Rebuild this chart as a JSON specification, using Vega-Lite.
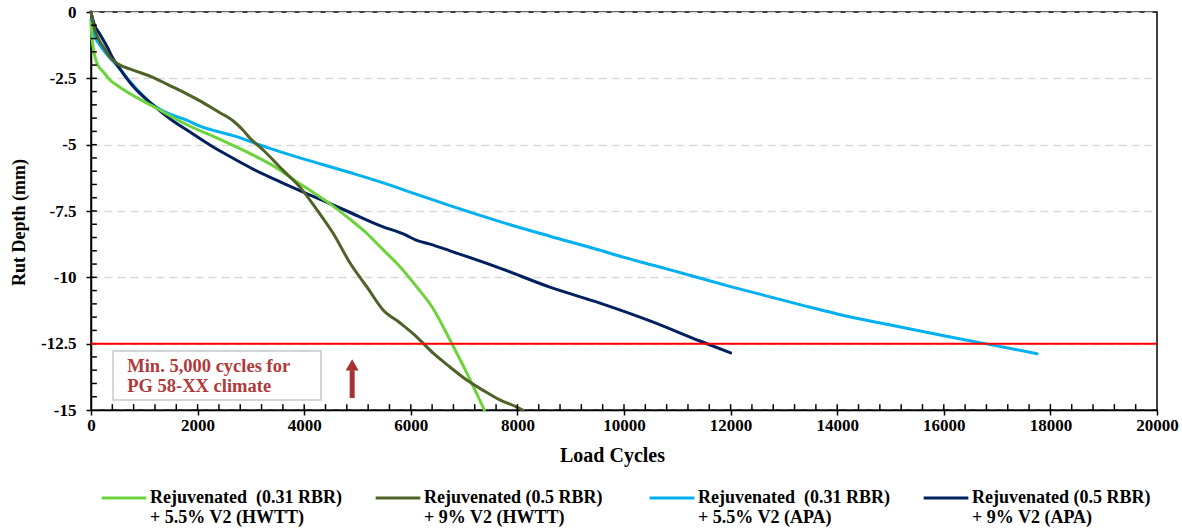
{
  "$schema": "https://vega.github.io/schema/vega-lite/v6.json",
  "width": 1066,
  "height": 398,
  "autosize": {"type": "none"},
  "padding": {"left": 91, "top": 12, "right": 25, "bottom": 119},
  "background": "white",
  "config": {
    "font": "Liberation Serif",
    "view": {"stroke": "black", "strokeWidth": 1.5},
    "axis": {
      "labelFont": "Liberation Serif",
      "labelFontWeight": "bold",
      "labelFontSize": 17,
      "labelColor": "black",
      "titleFont": "Liberation Serif",
      "titleFontWeight": "bold",
      "titleColor": "black",
      "domainColor": "black",
      "domainWidth": 1.5,
      "tickColor": "black",
      "tickWidth": 1.5,
      "tickCount": 100
    }
  },
  "resolve": {"axis": {"x": "independent", "y": "independent"}},
  "datasets": {
    "yticks": [{"v": -0.5},{"v": -1},{"v": -1.5},{"v": -2},{"v": -2.5},{"v": -3},{"v": -3.5},{"v": -4},{"v": -4.5},{"v": -5},{"v": -5.5},{"v": -6},{"v": -6.5},{"v": -7},{"v": -7.5},{"v": -8},{"v": -8.5},{"v": -9},{"v": -9.5},{"v": -10},{"v": -10.5},{"v": -11},{"v": -11.5},{"v": -12},{"v": -12.5},{"v": -13},{"v": -13.5},{"v": -14},{"v": -14.5}],
    "xticks": [{"v": 400},{"v": 800},{"v": 1200},{"v": 1600},{"v": 2000},{"v": 2400},{"v": 2800},{"v": 3200},{"v": 3600},{"v": 4000},{"v": 4400},{"v": 4800},{"v": 5200},{"v": 5600},{"v": 6000},{"v": 6400},{"v": 6800},{"v": 7200},{"v": 7600},{"v": 8000},{"v": 8400},{"v": 8800},{"v": 9200},{"v": 9600},{"v": 10000},{"v": 10400},{"v": 10800},{"v": 11200},{"v": 11600},{"v": 12000},{"v": 12400},{"v": 12800},{"v": 13200},{"v": 13600},{"v": 14000},{"v": 14400},{"v": 14800},{"v": 15200},{"v": 15600},{"v": 16000},{"v": 16400},{"v": 16800},{"v": 17200},{"v": 17600},{"v": 18000},{"v": 18400},{"v": 18800},{"v": 19200},{"v": 19600}],
    "curves": [
      {"series": "LB", "cycles": 0, "rut": -0.3},
      {"series": "LB", "cycles": 50, "rut": -0.8},
      {"series": "LB", "cycles": 150, "rut": -1.2},
      {"series": "LB", "cycles": 300, "rut": -1.6},
      {"series": "LB", "cycles": 500, "rut": -2.05},
      {"series": "LB", "cycles": 700, "rut": -2.55},
      {"series": "LB", "cycles": 950, "rut": -3.1},
      {"series": "LB", "cycles": 1200, "rut": -3.55},
      {"series": "LB", "cycles": 1425, "rut": -3.8},
      {"series": "LB", "cycles": 1760, "rut": -4.05},
      {"series": "LB", "cycles": 2045, "rut": -4.3},
      {"series": "LB", "cycles": 2700, "rut": -4.68},
      {"series": "LB", "cycles": 3300, "rut": -5.1},
      {"series": "LB", "cycles": 3920, "rut": -5.5},
      {"series": "LB", "cycles": 4860, "rut": -6.05},
      {"series": "LB", "cycles": 5500, "rut": -6.45},
      {"series": "LB", "cycles": 6000, "rut": -6.8},
      {"series": "LB", "cycles": 6735, "rut": -7.3},
      {"series": "LB", "cycles": 7670, "rut": -7.9},
      {"series": "LB", "cycles": 8610, "rut": -8.45},
      {"series": "LB", "cycles": 9550, "rut": -8.98},
      {"series": "LB", "cycles": 10000, "rut": -9.25},
      {"series": "LB", "cycles": 10800, "rut": -9.68},
      {"series": "LB", "cycles": 12000, "rut": -10.35},
      {"series": "LB", "cycles": 13300, "rut": -11.03},
      {"series": "LB", "cycles": 14000, "rut": -11.38},
      {"series": "LB", "cycles": 15000, "rut": -11.8},
      {"series": "LB", "cycles": 16000, "rut": -12.2},
      {"series": "LB", "cycles": 16700, "rut": -12.47},
      {"series": "LB", "cycles": 17300, "rut": -12.7},
      {"series": "LB", "cycles": 17750, "rut": -12.88},
      {"series": "DB", "cycles": 0, "rut": 0},
      {"series": "DB", "cycles": 50, "rut": -0.4},
      {"series": "DB", "cycles": 170, "rut": -0.85},
      {"series": "DB", "cycles": 300, "rut": -1.3},
      {"series": "DB", "cycles": 413, "rut": -1.75},
      {"series": "DB", "cycles": 600, "rut": -2.3},
      {"series": "DB", "cycles": 790, "rut": -2.8},
      {"series": "DB", "cycles": 1160, "rut": -3.5},
      {"series": "DB", "cycles": 1500, "rut": -4.05},
      {"series": "DB", "cycles": 1800, "rut": -4.45},
      {"series": "DB", "cycles": 2300, "rut": -5.1},
      {"series": "DB", "cycles": 2700, "rut": -5.55},
      {"series": "DB", "cycles": 3000, "rut": -5.88},
      {"series": "DB", "cycles": 3550, "rut": -6.4},
      {"series": "DB", "cycles": 4170, "rut": -6.95},
      {"series": "DB", "cycles": 4800, "rut": -7.5},
      {"series": "DB", "cycles": 5420, "rut": -8.05},
      {"series": "DB", "cycles": 5900, "rut": -8.4},
      {"series": "DB", "cycles": 6100, "rut": -8.6},
      {"series": "DB", "cycles": 6360, "rut": -8.75},
      {"series": "DB", "cycles": 6735, "rut": -9.0},
      {"series": "DB", "cycles": 7670, "rut": -9.65},
      {"series": "DB", "cycles": 8610, "rut": -10.37},
      {"series": "DB", "cycles": 9550, "rut": -10.97},
      {"series": "DB", "cycles": 10500, "rut": -11.65},
      {"series": "DB", "cycles": 11425, "rut": -12.4},
      {"series": "DB", "cycles": 12000, "rut": -12.85},
      {"series": "LG", "cycles": 0, "rut": -0.4},
      {"series": "LG", "cycles": 20, "rut": -1.0},
      {"series": "LG", "cycles": 50, "rut": -1.45},
      {"series": "LG", "cycles": 110, "rut": -1.92},
      {"series": "LG", "cycles": 250, "rut": -2.3},
      {"series": "LG", "cycles": 356, "rut": -2.56},
      {"series": "LG", "cycles": 500, "rut": -2.78},
      {"series": "LG", "cycles": 790, "rut": -3.15},
      {"series": "LG", "cycles": 1160, "rut": -3.55},
      {"series": "LG", "cycles": 1800, "rut": -4.25},
      {"series": "LG", "cycles": 2420, "rut": -4.8},
      {"series": "LG", "cycles": 2950, "rut": -5.3},
      {"series": "LG", "cycles": 3550, "rut": -5.96},
      {"series": "LG", "cycles": 3790, "rut": -6.3},
      {"series": "LG", "cycles": 4170, "rut": -6.8},
      {"series": "LG", "cycles": 4500, "rut": -7.25},
      {"series": "LG", "cycles": 4820, "rut": -7.75},
      {"series": "LG", "cycles": 5150, "rut": -8.3},
      {"series": "LG", "cycles": 5450, "rut": -8.9},
      {"series": "LG", "cycles": 5750, "rut": -9.5},
      {"series": "LG", "cycles": 6115, "rut": -10.37},
      {"series": "LG", "cycles": 6400, "rut": -11.12},
      {"series": "LG", "cycles": 6735, "rut": -12.36},
      {"series": "LG", "cycles": 7050, "rut": -13.6},
      {"series": "LG", "cycles": 7380, "rut": -15},
      {"series": "DG", "cycles": 0, "rut": 0},
      {"series": "DG", "cycles": 60, "rut": -0.6},
      {"series": "DG", "cycles": 150, "rut": -1.05},
      {"series": "DG", "cycles": 260, "rut": -1.4},
      {"series": "DG", "cycles": 356, "rut": -1.7},
      {"series": "DG", "cycles": 500, "rut": -1.95},
      {"series": "DG", "cycles": 790, "rut": -2.19},
      {"series": "DG", "cycles": 1150, "rut": -2.45},
      {"series": "DG", "cycles": 1425, "rut": -2.72},
      {"series": "DG", "cycles": 1760, "rut": -3.05},
      {"series": "DG", "cycles": 2045, "rut": -3.35},
      {"series": "DG", "cycles": 2380, "rut": -3.75},
      {"series": "DG", "cycles": 2664, "rut": -4.1},
      {"series": "DG", "cycles": 2850, "rut": -4.45},
      {"series": "DG", "cycles": 2980, "rut": -4.75},
      {"series": "DG", "cycles": 3230, "rut": -5.2},
      {"series": "DG", "cycles": 3600, "rut": -5.96},
      {"series": "DG", "cycles": 3920, "rut": -6.6},
      {"series": "DG", "cycles": 4240, "rut": -7.46},
      {"series": "DG", "cycles": 4540, "rut": -8.33},
      {"series": "DG", "cycles": 4860, "rut": -9.46},
      {"series": "DG", "cycles": 5180, "rut": -10.37},
      {"series": "DG", "cycles": 5480, "rut": -11.23},
      {"series": "DG", "cycles": 5800, "rut": -11.72},
      {"series": "DG", "cycles": 6115, "rut": -12.25},
      {"series": "DG", "cycles": 6415, "rut": -12.85},
      {"series": "DG", "cycles": 6735, "rut": -13.38},
      {"series": "DG", "cycles": 7050, "rut": -13.87},
      {"series": "DG", "cycles": 7350, "rut": -14.25},
      {"series": "DG", "cycles": 7670, "rut": -14.62},
      {"series": "DG", "cycles": 7990, "rut": -14.89},
      {"series": "DG", "cycles": 8100, "rut": -15}
    ]
  },
  "layer": [
    {
      "data": {"name": "curves"},
      "mark": {"type": "line", "strokeCap": "round", "strokeJoin": "round", "interpolate": "monotone"},
      "encoding": {
        "x": {
          "field": "cycles", "type": "quantitative",
          "scale": {"domain": [0, 20000], "nice": false},
          "axis": {
            "orient": "bottom",
            "title": "Load Cycles",
            "titleFontSize": 20,
            "titleX": 521,
            "values": [0,2000,4000,6000,8000,10000,12000,14000,16000,18000,20000],
            "tickCount": 100,
            "labelExpr": "'' + datum.value",
            "tickSize": 5,
            "labelPadding": 2,
            "titlePadding": 12,
            "grid": false,
            "labelFlush": false,
            "labelOverlap": false
          }
        },
        "y": {
          "field": "rut", "type": "quantitative",
          "scale": {"domain": [-15, 0], "nice": false, "zero": false},
          "axis": {
            "orient": "left",
            "title": "Rut Depth (mm)",
            "titleFontSize": 18,
            "titleY": 210,
            "values": [0,-2.5,-5,-7.5,-10,-12.5,-15],
            "tickCount": 100,
            "labelExpr": "'' + datum.value",
            "tickSize": 5,
            "labelPadding": 10,
            "titlePadding": 12,
            "grid": true,
            "gridColor": "#D9D9D9",
            "gridDash": [8, 5],
            "gridWidth": 1.5,
            "labelFlush": false,
            "labelOverlap": false
          }
        },
        "color": {
          "field": "series", "type": "nominal",
          "scale": {
            "domain": ["LG", "DG", "LB", "DB"],
            "range": ["#6CD33C", "#4F6228", "#00B0F0", "#002060"]
          },
          "legend": {
            "title": null,
            "orient": "none",
            "legendX": 9,
            "legendY": 462,
            "direction": "horizontal",
            "columns": 4,
            "gridAlign": "all",
            "symbolType": "stroke",
            "symbolSize": 2000,
            "symbolStrokeWidth": 4,
            "labelFont": "Liberation Serif",
            "labelFontSize": 18,
            "labelFontWeight": "bold",
            "labelColor": "black",
            "labelLimit": 400,
            "labelOffset": 2,
            "columnPadding": 27,
            "labelExpr": "datum.value == 'LG' ? ['Rejuvenated\u00a0 (0.31 RBR)', '+ 5.5% V2 (HWTT)'] : datum.value == 'DG' ? ['Rejuvenated (0.5 RBR)', '+ 9% V2 (HWTT)'] : datum.value == 'LB' ? ['Rejuvenated\u00a0 (0.31 RBR)', '+ 5.5% V2 (APA)'] : ['Rejuvenated (0.5 RBR)', '+ 9% V2 (APA)']"
          }
        },
        "strokeWidth": {
          "field": "series", "type": "nominal",
          "scale": {"domain": ["LG", "DG", "LB", "DB"], "range": [3, 3, 8, 6]},
          "legend": null
        }
      }
    },
    {
      "data": {"name": "yticks"},
      "mark": {"type": "rule", "color": "#000000", "strokeWidth": 1.5, "opacity": 1},
      "encoding": {
        "y": {"field": "v", "type": "quantitative", "axis": null},
        "x": {"datum": 0, "type": "quantitative", "axis": null},
        "x2": {"datum": 110}
      }
    },
    {
      "data": {"name": "xticks"},
      "mark": {"type": "rule", "color": "#000000", "strokeWidth": 1.5, "opacity": 1},
      "encoding": {
        "x": {"field": "v", "type": "quantitative", "axis": null},
        "y": {"datum": -15, "type": "quantitative", "axis": null},
        "y2": {"datum": -14.78}
      }
    },
    {
      "data": {"values": [{"limit": -12.5}]},
      "mark": {"type": "rule", "color": "#FF0000", "strokeWidth": 2},
      "encoding": {
        "y": {"field": "limit", "type": "quantitative", "axis": null}
      }
    },
    {
      "data": {"values": [{"x": 413, "x2": 4315, "y": -12.78, "y2": -14.62}]},
      "mark": {"type": "rect", "fill": "white", "stroke": "#C8C8C8", "strokeWidth": 1.5},
      "encoding": {
        "x": {"field": "x", "type": "quantitative", "axis": null},
        "x2": {"field": "x2"},
        "y": {"field": "y", "type": "quantitative", "axis": null},
        "y2": {"field": "y2"}
      }
    },
    {
      "data": {"values": [{"x": 680, "y": -13.34, "t": "Min. 5,000 cycles for"}, {"x": 680, "y": -14.1, "t": "PG 58-XX climate"}]},
      "mark": {"type": "text", "align": "left", "baseline": "middle", "font": "Liberation Serif", "fontWeight": "bold", "fontSize": 18.5, "color": "#B03A3A"},
      "encoding": {
        "x": {"field": "x", "type": "quantitative", "axis": null},
        "y": {"field": "y", "type": "quantitative", "axis": null},
        "text": {"field": "t"}
      }
    },
    {
      "data": {"values": [{"x": 4900, "y": -14.55, "y2": -13.5}]},
      "mark": {"type": "rule", "color": "#A83232", "strokeWidth": 5},
      "encoding": {
        "x": {"field": "x", "type": "quantitative", "axis": null},
        "y": {"field": "y", "type": "quantitative", "axis": null},
        "y2": {"field": "y2"}
      }
    },
    {
      "data": {"values": [{"x": 4900, "y": -13.3}]},
      "mark": {"type": "point", "shape": "triangle-up", "filled": true, "color": "#A83232", "size": 170, "opacity": 1},
      "encoding": {
        "x": {"field": "x", "type": "quantitative", "axis": null},
        "y": {"field": "y", "type": "quantitative", "axis": null}
      }
    }
  ]
}
